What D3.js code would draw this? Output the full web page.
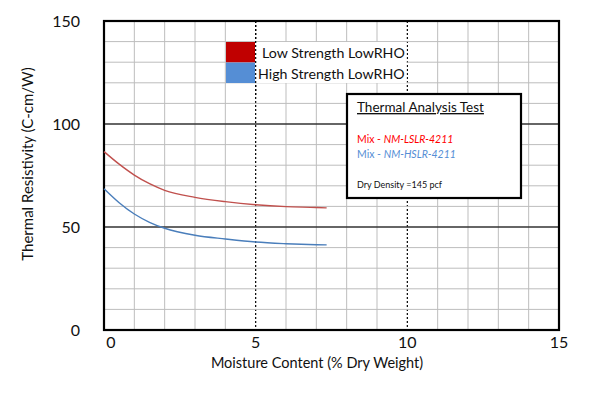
<!DOCTYPE html>
<html lang="en">
<head>
  <meta charset="UTF-8">
  <title>Thermal Resistivity vs Moisture Content</title>
  <style>
    body { margin: 0; background: #fff; }
    text { font-family: Lato, "Open Sans", sans-serif; }
  </style>
</head>
<body>
  <svg id="svg" width="600" height="399"></svg>
  <script src="https://d3js.org/d3.v7.min.js"></script>
  <script>
    const moisture = [0, 0.5, 1, 1.5, 2, 3, 4, 5, 6, 7, 7.34]
    const lowStrength = [86.6, 80.5, 75.2, 71.0, 67.8, 64.4, 62.3, 60.8, 59.9, 59.5, 59.3]
    const highStrength = [68.6, 61.8, 56.3, 52.3, 49.4, 46.0, 44.2, 42.7, 41.9, 41.4, 41.3]
    const xTicks = [0, 5, 10, 15]
    const yTicks = [0, 50, 100, 150]
    const seriesNames = ['Low Strength LowRHO', 'High Strength LowRHO']

    const svg = d3.select('#svg')
    const plot = { left: 104, right: 559, top: 21, bottom: 330 }

    const x = d3.scaleLinear().domain([0, 15]).range([plot.left, plot.right])
    const y = d3.scaleLinear().domain([0, 150]).range([plot.bottom, plot.top])

    const grid = svg.append('g')
    // minor grid every 1 unit in x, 10 in y
    grid.selectAll('.vx').data(d3.range(1, 15)).enter()
      .append('line')
      .attr('x1', d => x(d)).attr('x2', d => x(d))
      .attr('y1', plot.top).attr('y2', plot.bottom)
      .attr('stroke', d => d % 5 === 0 ? '#000' : '#bdbdbd')
      .attr('stroke-width', d => d % 5 === 0 ? 1.2 : 1)
      .attr('stroke-dasharray', d => d % 5 === 0 ? '2,2' : null)
    grid.selectAll('.hy').data(d3.range(10, 150, 10)).enter()
      .append('line')
      .attr('x1', plot.left).attr('x2', plot.right)
      .attr('y1', d => y(d)).attr('y2', d => y(d))
      .attr('stroke', d => d % 50 === 0 ? '#333' : '#bdbdbd')
      .attr('stroke-width', d => d % 50 === 0 ? 1.6 : 1)

    // plot frame
    svg.append('rect')
      .attr('x', plot.left).attr('y', plot.top)
      .attr('width', plot.right - plot.left).attr('height', plot.bottom - plot.top)
      .attr('fill', 'none').attr('stroke', '#000').attr('stroke-width', 2.2)

    // tick labels
    svg.selectAll('.yt').data(yTicks).enter()
      .append('text')
      .attr('x', 80).attr('y', d => y(d) + 6)
      .attr('text-anchor', 'end')
      .attr('font-size', 16).attr('fill', '#111')
      .text(d => d)
    svg.selectAll('.xt').data(xTicks).enter()
      .append('text')
      .attr('x', d => d === 0 ? x(d) + 7 : x(d))
      .attr('y', 348)
      .attr('text-anchor', 'middle')
      .attr('font-size', 16).attr('fill', '#111')
      .text(d => d)

    // axis titles
    svg.append('text')
      .attr('x', 317).attr('y', 368)
      .attr('text-anchor', 'middle')
      .attr('font-size', 14.5).attr('fill', '#111')
      .text('Moisture Content (% Dry Weight)')
    svg.append('text')
      .attr('transform', 'translate(33,164) rotate(-90)')
      .attr('text-anchor', 'middle')
      .attr('font-size', 15).attr('fill', '#111')
      .text('Thermal Resistivity (C-cm/W)')

    // curves
    const line = d3.line().x(d => x(d[0])).y(d => y(d[1])).curve(d3.curveMonotoneX)
    const series = [
      { vals: lowStrength, color: '#c0504d' },
      { vals: highStrength, color: '#4a7ebb' }
    ]
    svg.selectAll('.curve').data(series).enter()
      .append('path')
      .attr('d', s => line(moisture.map((m, i) => [m, s.vals[i]])))
      .attr('fill', 'none')
      .attr('stroke', s => s.color)
      .attr('stroke-width', 1.4)

    // legend
    const legend = svg.append('g')
    legend.append('rect')
      .attr('x', 226).attr('y', 42).attr('width', 180.5).attr('height', 41)
      .attr('fill', '#fff')
    const swatch = ['#c00000', '#558ed5']
    legend.selectAll('.sw').data(seriesNames).enter()
      .append('rect')
      .attr('x', 226).attr('y', (d, i) => 42 + i * 20.5)
      .attr('width', 29).attr('height', 20.5)
      .attr('fill', (d, i) => swatch[i])
    legend.selectAll('.lt').data(seriesNames).enter()
      .append('text')
      .attr('x', (d, i) => i === 0 ? 262 : 258)
      .attr('y', (d, i) => 58 + i * 20.5)
      .attr('font-size', 14.2).attr('fill', '#111')
      .text(d => d)
    // dotted line at 5 runs over the legend
    legend.append('line')
      .attr('x1', x(5)).attr('x2', x(5)).attr('y1', plot.top).attr('y2', 95)
      .attr('stroke', '#000').attr('stroke-width', 1.2).attr('stroke-dasharray', '2,2')

    // info box
    const box = svg.append('g')
    box.append('rect')
      .attr('x', 347).attr('y', 94).attr('width', 174).attr('height', 104)
      .attr('fill', '#fff').attr('stroke', '#000').attr('stroke-width', 2.2)
    box.append('text')
      .attr('x', 357).attr('y', 112)
      .attr('font-size', 13.5).attr('fill', '#111')
      .attr('text-decoration', 'underline')
      .text('Thermal Analysis Test')
    const mixes = [
      { id: 'NM-LSLR-4211', color: '#ff0000' },
      { id: 'NM-HSLR-4211', color: '#558ed5' }
    ]
    mixes.forEach((m, i) => {
      const t = box.append('text')
        .attr('x', 357).attr('y', 143 + i * 15)
        .attr('font-size', 10.5).attr('fill', m.color)
      t.append('tspan').text('Mix - ')
      t.append('tspan').attr('font-style', 'italic').text(m.id)
    })
    box.append('text')
      .attr('x', 357).attr('y', 188)
      .attr('font-size', 9).attr('fill', '#111')
      .text('Dry Density  =145 pcf')
  </script>
</body>
</html>
